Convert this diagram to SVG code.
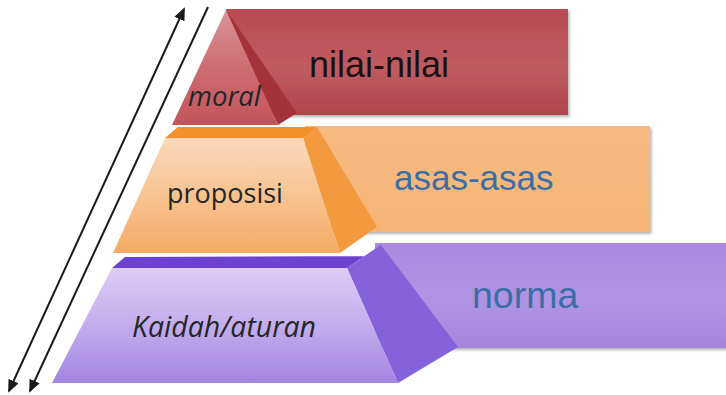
<svg xmlns="http://www.w3.org/2000/svg" width="726" height="395" viewBox="0 0 726 395">
  <style>
    .lbl-i { font-family: "Open Sans", "Noto Sans", sans-serif; font-style: italic; fill: #262626; }
    .lbl-r { font-family: "Open Sans", "Noto Sans", sans-serif; fill: #262626; }
    .big { font-family: "Liberation Sans", Arial, sans-serif; }
    .blue { fill: #3a6ea6; }
    .conn { stroke: #1a1a1a; stroke-width: 2; fill: none; }
  </style>
  <defs>
    <filter id="sh" x="-5%" y="-10%" width="112%" height="130%">
      <feDropShadow dx="1.5" dy="2" stdDeviation="1.8" flood-color="#000" flood-opacity="0.3"/>
    </filter>
    <linearGradient id="gRedRect" x1="0" y1="0" x2="0" y2="1">
      <stop offset="0" stop-color="#b84b53"/>
      <stop offset="0.55" stop-color="#bf5c61"/>
      <stop offset="1" stop-color="#b0444d"/>
    </linearGradient>
    <linearGradient id="gRedFront" x1="0" y1="0" x2="0" y2="1">
      <stop offset="0" stop-color="#da9598"/>
      <stop offset="0.5" stop-color="#cd6d72"/>
      <stop offset="1" stop-color="#c4535b"/>
    </linearGradient>
    <linearGradient id="gOrRect" x1="0" y1="0" x2="0" y2="1">
      <stop offset="0" stop-color="#f7bb80"/>
      <stop offset="1" stop-color="#f6b476"/>
    </linearGradient>
    <linearGradient id="gOrFront" x1="0" y1="0" x2="0" y2="1">
      <stop offset="0" stop-color="#fad9bb"/>
      <stop offset="0.5" stop-color="#f8c391"/>
      <stop offset="1" stop-color="#f5aa64"/>
    </linearGradient>
    <linearGradient id="gPuRect" x1="0" y1="0" x2="0" y2="1">
      <stop offset="0" stop-color="#a98ae0"/>
      <stop offset="0.55" stop-color="#b094e3"/>
      <stop offset="1" stop-color="#a485de"/>
    </linearGradient>
    <linearGradient id="gPuFront" x1="0" y1="0" x2="0" y2="1">
      <stop offset="0" stop-color="#dccdf4"/>
      <stop offset="0.5" stop-color="#c3aded"/>
      <stop offset="1" stop-color="#a285e2"/>
    </linearGradient>
    <marker id="ah" viewBox="0 0 13 11" refX="11" refY="5.5" markerWidth="13" markerHeight="11" markerUnits="userSpaceOnUse" orient="auto-start-reverse">
      <path d="M0,0 L13,5.5 L0,11 z" fill="#1a1a1a"/>
    </marker>
  </defs>

  <g id="tier-nilai">
    <rect x="226" y="9" width="342" height="106" fill="url(#gRedRect)" filter="url(#sh)"/>
    <polygon points="226,10 297,113 278,125" fill="#a5313b"/>
    <polygon points="226,10 278,125 172,125" fill="url(#gRedFront)"/>
    <text class="big" x="309" y="77" font-size="36" fill="#1c1011">nilai-nilai</text>
    <text class="lbl-i" x="188" y="106" font-size="27.5">moral</text>
  </g>

  <g id="tier-asas">
    <rect x="305" y="126" width="345" height="106" fill="url(#gOrRect)" filter="url(#sh)"/>
    <polygon points="178,127 317,127 303,138 165,138" fill="#f3902b"/>
    <polygon points="303,138 317,127 377,227 340,253" fill="#f39a3f"/>
    <polygon points="165,138 303,138 340,253 113,253" fill="url(#gOrFront)"/>
    <text class="big blue" x="394" y="190" font-size="35">asas-asas</text>
    <text class="lbl-r" x="167" y="203" font-size="27">proposisi</text>
  </g>

  <g id="tier-norma">
    <rect x="375" y="243" width="355" height="105" fill="url(#gPuRect)" filter="url(#sh)"/>
    <polygon points="125,257 366,256 381,245 347,268 112,268" fill="#6d42d1"/>
    <polygon points="347,268 381,245 458,347 398,383" fill="#8462da"/>
    <polygon points="112,268 347,268 398,383 52,383" fill="url(#gPuFront)"/>
    <text class="big blue" x="472" y="308" font-size="37.5">norma</text>
    <text class="lbl-i" x="132" y="337" font-size="28.5">Kaidah/aturan</text>
  </g>

  <g id="connectors">
    <line class="conn" x1="9" y1="391" x2="184" y2="9" marker-start="url(#ah)" marker-end="url(#ah)"/>
    <line class="conn" x1="208" y1="7" x2="30" y2="391" marker-end="url(#ah)"/>
  </g>
</svg>
